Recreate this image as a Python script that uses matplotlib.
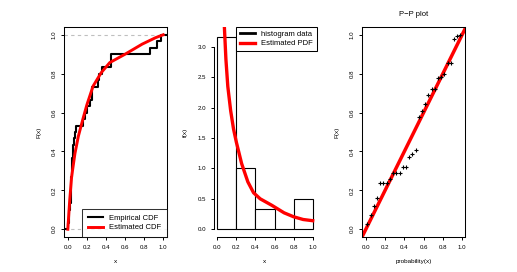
import numpy as np
import matplotlib
matplotlib.use("Agg")
from matplotlib import pyplot as plt

plt.rcParams['font.family'] = ['Liberation Sans', 'DejaVu Sans']

# observed sample (sorted), read from the empirical CDF / P-P plot
data = [0.004, 0.010, 0.016, 0.022, 0.035, 0.035, 0.035, 0.038, 0.046, 0.046,
        0.046, 0.054, 0.054, 0.070, 0.074, 0.090, 0.163, 0.183, 0.198, 0.233,
        0.256, 0.256, 0.319, 0.325, 0.355, 0.452, 0.452, 0.858, 0.930, 0.975]

hist_bins = [0.0, 0.2, 0.4, 0.6, 0.8, 1.0]

# fitted CDF curve
cdf_x = [0.0, 0.02, 0.04, 0.075, 0.11, 0.16, 0.2, 0.265, 0.35, 0.44, 0.6, 0.78, 0.92, 1.0]
cdf_F = [0.0, 0.15, 0.27, 0.39, 0.477, 0.57, 0.64, 0.736, 0.805, 0.857, 0.9, 0.952, 0.985, 1.0]

# fitted PDF curve
pdf_x = [0.06, 0.074, 0.09, 0.11, 0.14, 0.17, 0.2, 0.255, 0.32, 0.38, 0.45, 0.57, 0.7, 0.8, 0.9, 1.0]
pdf_d = [4.0, 3.33, 2.8, 2.35, 1.95, 1.65, 1.43, 1.08, 0.78, 0.6, 0.5, 0.395, 0.27, 0.205, 0.16, 0.14]

# P-P plot points
pp_x = [0.017, 0.050, 0.083, 0.117, 0.150, 0.183, 0.217, 0.250, 0.283, 0.317,
        0.350, 0.383, 0.417, 0.450, 0.483, 0.517, 0.550, 0.583, 0.617, 0.650,
        0.683, 0.717, 0.750, 0.783, 0.817, 0.850, 0.883, 0.917, 0.950, 0.983]
pp_y = [0.028, 0.075, 0.122, 0.163, 0.240, 0.240, 0.240, 0.260, 0.289, 0.289,
        0.289, 0.318, 0.318, 0.372, 0.386, 0.408, 0.576, 0.610, 0.645, 0.688,
        0.723, 0.723, 0.780, 0.785, 0.800, 0.854, 0.854, 0.978, 0.995, 0.998]

ticks01 = [0.0, 0.2, 0.4, 0.6, 0.8, 1.0]
ticks_d = [0.0, 0.5, 1.0, 1.5, 2.0, 2.5, 3.0]

TICK_FS = 4.4
LAB_FS = 4.6
LEG_FS = 5.5


def style(ax, xt, yt):
    ax.set_xticks(xt)
    ax.set_yticks(yt)
    ax.set_xticklabels([f"{t:.1f}" for t in xt])
    ax.set_yticklabels([f"{t:.1f}" for t in yt])
    ax.tick_params(direction="out", length=2.3, width=0.7, pad=3.2, labelsize=TICK_FS)
    for lab in ax.get_yticklabels():
        lab.set_rotation(90)
        lab.set_va("center")
    for s in ax.spines.values():
        s.set_linewidth(0.75)


fig = plt.figure(figsize=(5.17, 2.72), dpi=100)
W, H = 517, 272
ax1 = fig.add_axes([64 / W, 35 / H, 103 / W, 210 / H])
ax2 = fig.add_axes([213.5 / W, 35 / H, 103 / W, 210 / H])
ax3 = fig.add_axes([362 / W, 35 / H, 103 / W, 210 / H])

# Panel 1: empirical vs estimated CDF
xs = np.sort(np.array(data))
n = len(xs)
Fe = np.arange(1, n + 1) / n
ax1.axhline(0, color="0.75", ls=(0, (3, 3)), lw=0.8)
ax1.axhline(1, color="0.75", ls=(0, (3, 3)), lw=0.8)
ax1.step(np.r_[-0.2, xs, 1.2], np.r_[0, Fe, 1], where="post", color="black", lw=1.5,
         label="Empirical CDF")
ax1.plot(cdf_x, cdf_F, color="red", lw=2.1, label="Estimated CDF")
ax1.set_xlim(-0.04, 1.04)
ax1.set_ylim(-0.04, 1.04)
style(ax1, ticks01, ticks01)
ax1.set_xlabel("x", fontsize=LAB_FS, labelpad=6.5)
ax1.set_ylabel("F(x)", fontsize=LAB_FS, labelpad=7)
leg = ax1.legend(loc="lower right", fontsize=LEG_FS, frameon=True, fancybox=False,
                 borderaxespad=0, handlelength=2.0, handletextpad=0.8,
                 labelspacing=0.25, borderpad=0.75)
leg.get_frame().set_edgecolor("black")
leg.get_frame().set_linewidth(0.75)

# Panel 2: histogram and estimated PDF
ax2.hist(data, bins=hist_bins, density=True, facecolor="white", edgecolor="black",
         lw=0.8)
ax2.plot([], [], color="black", lw=2.0, label="histogram data")
ax2.plot(pdf_x, pdf_d, color="red", lw=2.4, label="Estimated PDF")
ax2.set_xlim(-0.04, 1.04)
ax2.set_ylim(-0.128, 3.328)
style(ax2, ticks01, ticks_d)
ax2.spines["top"].set_visible(False)
ax2.spines["right"].set_visible(False)
ax2.spines["left"].set_bounds(0, 3.0)
ax2.spines["bottom"].set_bounds(0, 1.0)
ax2.spines["left"].set_position(("data", -0.04))
ax2.set_xlabel("x", fontsize=LAB_FS, labelpad=6.5)
ax2.set_ylabel("f(x)", fontsize=LAB_FS, labelpad=7)
leg = ax2.legend(loc="upper right", fontsize=LEG_FS, frameon=True, fancybox=False,
                 borderaxespad=0, handlelength=2.0, handletextpad=0.8,
                 labelspacing=0.25, borderpad=0.5, framealpha=1)
leg.get_frame().set_edgecolor("black")
leg.get_frame().set_linewidth(0.75)

# Panel 3: P-P plot
ax3.axline((0, 0), (1, 1), color="red", lw=2.5)
ax3.plot(pp_x, pp_y, "+", color="black", ms=3.2, mew=0.8)
ax3.set_xlim(-0.04, 1.03)
ax3.set_ylim(-0.04, 1.04)
style(ax3, ticks01, ticks01)
ax3.set_xlabel("probability(x)", fontsize=LAB_FS, labelpad=6.5)
ax3.set_ylabel("F(x)", fontsize=LAB_FS, labelpad=7)
ax3.set_title("P\u2212P plot", fontsize=5.5, pad=8)

fig.savefig("out.png", dpi=100)
